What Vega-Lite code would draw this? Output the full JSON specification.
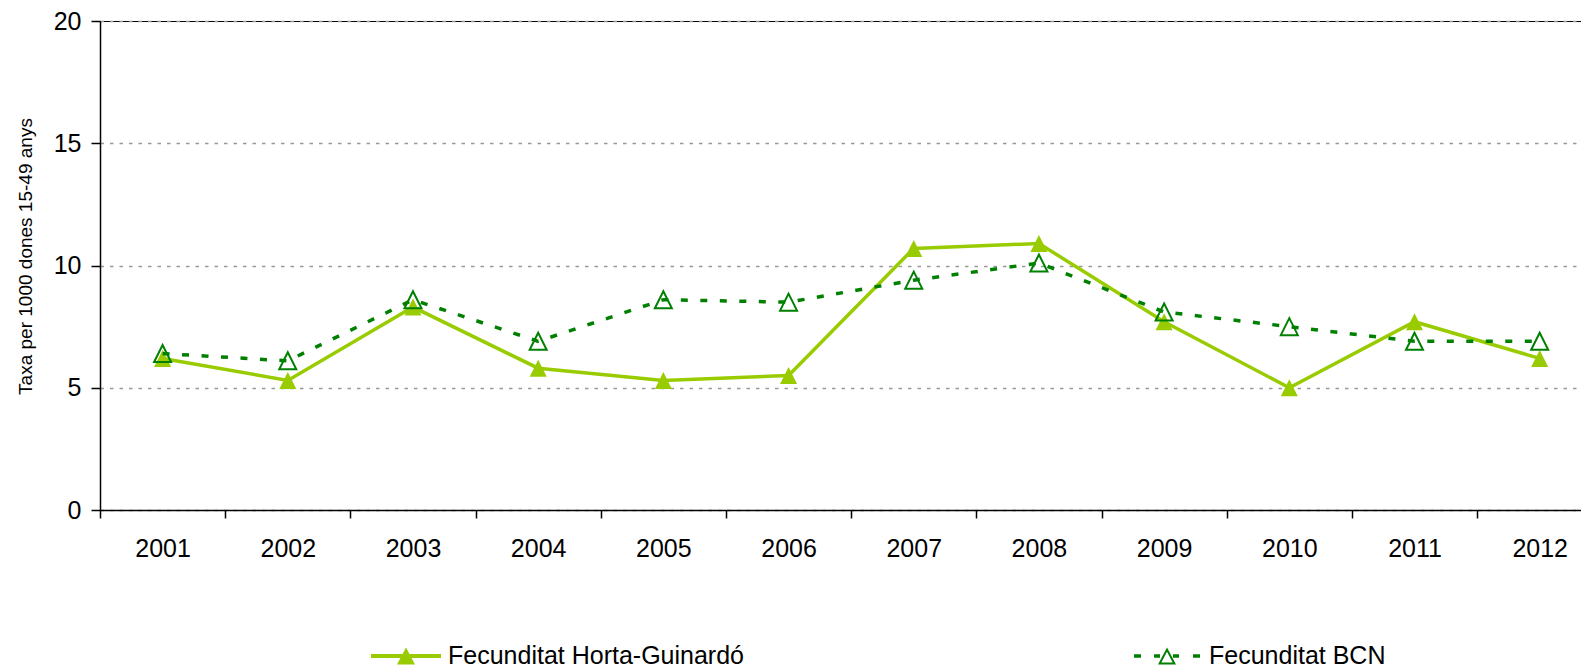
{
  "$schema": "https://vega.github.io/schema/vega-lite/v6.json",
  "width": 1481,
  "height": 489,
  "autosize": {"type": "none"},
  "padding": {"left": 100, "top": 21, "right": 0, "bottom": 161},
  "background": "white",
  "config": {
    "view": {"stroke": "black", "strokeWidth": 1},
    "font": "Liberation Sans",
    "axis": {"labelFont": "Liberation Sans", "titleFont": "Liberation Sans", "labelColor": "black", "titleColor": "black", "domainColor": "black", "tickColor": "black", "domainWidth": 1.5, "tickWidth": 1.5}
  },
  "data": {
    "values": [
      {"year": 2001, "serie": "Fecunditat Horta-Guinardó", "value": 6.2},
      {"year": 2002, "serie": "Fecunditat Horta-Guinardó", "value": 5.3},
      {"year": 2003, "serie": "Fecunditat Horta-Guinardó", "value": 8.3},
      {"year": 2004, "serie": "Fecunditat Horta-Guinardó", "value": 5.8},
      {"year": 2005, "serie": "Fecunditat Horta-Guinardó", "value": 5.3},
      {"year": 2006, "serie": "Fecunditat Horta-Guinardó", "value": 5.5},
      {"year": 2007, "serie": "Fecunditat Horta-Guinardó", "value": 10.7},
      {"year": 2008, "serie": "Fecunditat Horta-Guinardó", "value": 10.9},
      {"year": 2009, "serie": "Fecunditat Horta-Guinardó", "value": 7.7},
      {"year": 2010, "serie": "Fecunditat Horta-Guinardó", "value": 5.0},
      {"year": 2011, "serie": "Fecunditat Horta-Guinardó", "value": 7.7},
      {"year": 2012, "serie": "Fecunditat Horta-Guinardó", "value": 6.2},
      {"year": 2001, "serie": "Fecunditat BCN", "value": 6.4},
      {"year": 2002, "serie": "Fecunditat BCN", "value": 6.1},
      {"year": 2003, "serie": "Fecunditat BCN", "value": 8.6},
      {"year": 2004, "serie": "Fecunditat BCN", "value": 6.9},
      {"year": 2005, "serie": "Fecunditat BCN", "value": 8.6},
      {"year": 2006, "serie": "Fecunditat BCN", "value": 8.5},
      {"year": 2007, "serie": "Fecunditat BCN", "value": 9.4},
      {"year": 2008, "serie": "Fecunditat BCN", "value": 10.1},
      {"year": 2009, "serie": "Fecunditat BCN", "value": 8.1},
      {"year": 2010, "serie": "Fecunditat BCN", "value": 7.5},
      {"year": 2011, "serie": "Fecunditat BCN", "value": 6.9},
      {"year": 2012, "serie": "Fecunditat BCN", "value": 6.9}
    ]
  },
  "encoding": {
    "x": {
      "field": "year", "type": "quantitative",
      "scale": {"domain": [2000.5, 2012.33], "nice": false, "zero": false},
      "axis": {
        "title": null, "grid": false,
        "values": [2000.5, 2001.5, 2002.5, 2003.5, 2004.5, 2005.5, 2006.5, 2007.5, 2008.5, 2009.5, 2010.5, 2011.5],
        "labelExpr": "format(datum.value + 0.5, 'd')",
        "labelOffset": 62.6, "labelBound": false, "labelFlush": false, "labelOverlap": false,
        "tickSize": 8, "labelPadding": 18.5, "labelFontSize": 25
      }
    },
    "y": {
      "field": "value", "type": "quantitative",
      "scale": {"domain": [0, 20], "nice": false},
      "axis": {
        "title": "Taxa per 1000 dones 15-49 anys",
        "titleFontSize": 19, "titleFontWeight": "normal", "titlePadding": 18, "titleY": 235,
        "values": [0, 5, 10, 15, 20],
        "grid": true, "gridDash": [3.5, 6], "gridColor": "#999999", "gridWidth": 1.5,
        "tickSize": 9, "labelPadding": 10, "labelFontSize": 25
      }
    }
  },
  "layer": [
    {
      "transform": [{"filter": "datum.serie === 'Fecunditat Horta-Guinardó'"}],
      "mark": {"type": "line", "strokeWidth": 3.5},
      "encoding": {
        "stroke": {
          "field": "serie", "type": "nominal",
          "scale": {"domain": ["Fecunditat Horta-Guinardó", "Fecunditat BCN"], "range": ["#99cc00", "#008000"]},
          "legend": {
            "title": null, "orient": "none", "legendX": 271, "legendY": 600,
            "direction": "horizontal", "columns": 2, "columnPadding": 388,
            "symbolSize": 4900, "symbolStrokeWidth": 0,
            "labelFontSize": 25, "labelFont": "Liberation Sans", "labelColor": "black", "labelOffset": 7, "labelLimit": 0,
            "encode": {
              "symbols": {
                "update": {
                  "shape": {"signal": "datum.value === 'Fecunditat BCN' ? 'M-0.943,-0.05H-0.743V0.05H-0.943ZM-0.371,-0.05H-0.2V0.05H-0.371ZM0.171,-0.05H0.343V0.05H0.171ZM0.743,-0.05H0.943V0.05H0.743ZM-0.257,0.243L0,-0.243L0.257,0.243ZM0.162,0.186L0,-0.121L-0.162,0.186Z' : 'M-1,-0.057H1V0.057H-1ZM-0.257,0.243L0,-0.243L0.257,0.243Z'"},
                  "fill": {"signal": "datum.value === 'Fecunditat BCN' ? '#008000' : '#99cc00'"},
                  "stroke": {"value": "transparent"},
                  "strokeWidth": {"value": 0},
                  "strokeDash": {"value": []},
                  "opacity": {"value": 1},
                  "fillOpacity": {"value": 1}
                }
              }
            }
          }
        }
      }
    },
    {
      "transform": [{"filter": "datum.serie === 'Fecunditat Horta-Guinardó'"}],
      "mark": {"type": "point", "shape": "M-1,1L1,1L0,-1Z", "size": 289, "filled": true, "fill": "#99cc00", "strokeWidth": 0, "opacity": 1}
    },
    {
      "transform": [{"filter": "datum.serie === 'Fecunditat BCN'"}],
      "mark": {"type": "line", "strokeWidth": 3.5, "strokeDash": [7, 12.5]},
      "encoding": {
        "stroke": {"field": "serie", "type": "nominal"}
      }
    },
    {
      "transform": [{"filter": "datum.serie === 'Fecunditat BCN'"}],
      "mark": {"type": "point", "shape": "M-1,1L1,1L0,-1Z", "size": 289, "filled": false, "fill": "transparent", "stroke": "#008000", "strokeWidth": 2, "opacity": 1}
    }
  ]
}
